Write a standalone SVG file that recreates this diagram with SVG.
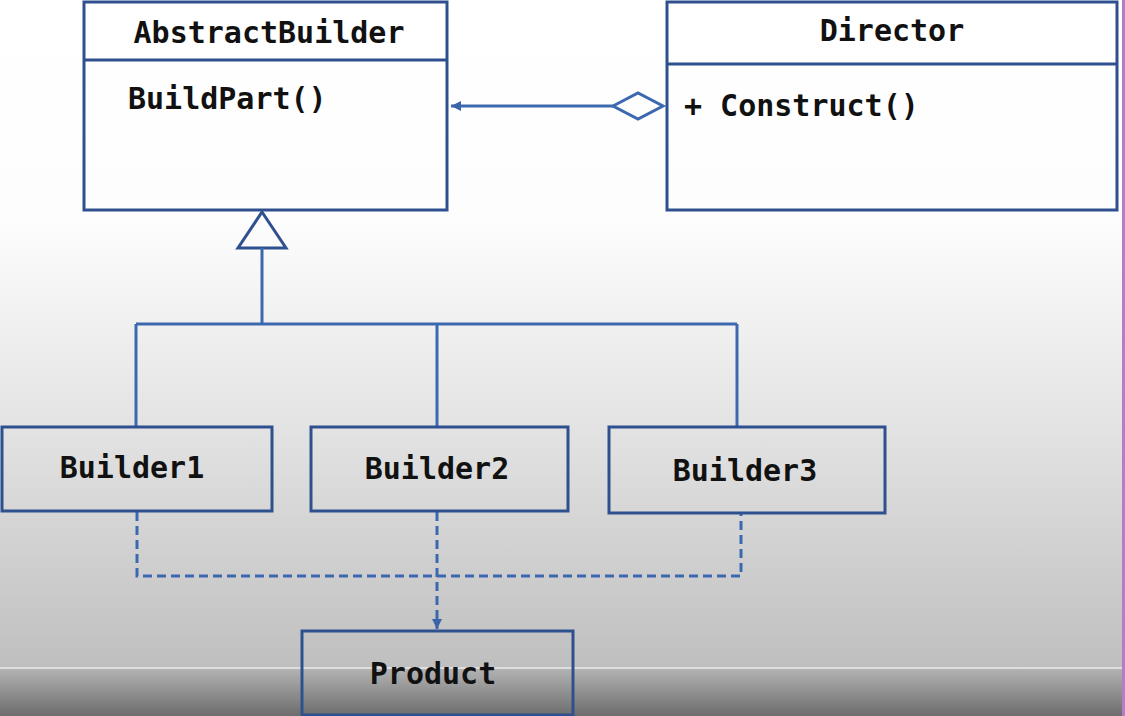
<svg xmlns="http://www.w3.org/2000/svg" width="1125" height="716" viewBox="0 0 1125 716">
<defs>
<linearGradient id="bg" x1="0" y1="0" x2="0" y2="668" gradientUnits="userSpaceOnUse">
<stop offset="0" stop-color="#ffffff"/>
<stop offset="0.33" stop-color="#fdfdfd"/>
<stop offset="0.5" stop-color="#efefef"/>
<stop offset="0.65" stop-color="#e2e2e2"/>
<stop offset="0.82" stop-color="#d1d1d1"/>
<stop offset="1" stop-color="#bfbfbf"/>
</linearGradient>
<linearGradient id="bar" x1="0" y1="669" x2="0" y2="716" gradientUnits="userSpaceOnUse">
<stop offset="0" stop-color="#b3b3b3"/>
<stop offset="1" stop-color="#6c6c6c"/>
</linearGradient>
<marker id="arrow" viewBox="0 0 10 10" refX="10" refY="5" markerWidth="10" markerHeight="10" markerUnits="userSpaceOnUse" orient="auto">
<path d="M0,0 L10,5 L0,10 Z" fill="#3a63a8"/>
</marker>
</defs>
<style>
.box{fill:none;stroke:#2f508f;stroke-width:3}
.conn{fill:none;stroke:#3c68b0;stroke-width:3}
.dash{fill:none;stroke:#3c68b0;stroke-width:3;stroke-dasharray:9 5}
.t{font-family:"DejaVu Sans Mono","Liberation Mono",monospace;font-weight:bold;font-size:30px;fill:#111}
</style>
<rect x="0" y="0" width="1125" height="668" fill="url(#bg)"/>
<rect x="0" y="667" width="1125" height="2" fill="#dedede"/>
<rect x="0" y="669" width="1125" height="47" fill="url(#bar)"/>
<rect x="1122" y="0" width="3" height="716" fill="#b57ccb"/>

<g id="connectors">
<path class="conn" d="M613,106 L451,106" marker-end="url(#arrow)"/>
<polygon class="conn" points="613,106 638,93 663,106 638,119" fill="none"/>
<polygon class="box" points="262,212 286,248 238,248" fill="none"/>
<path class="conn" d="M262,248 L262,324"/>
<path class="conn" d="M136,324 L737,324"/>
<path class="conn" d="M136,324 L136,427"/>
<path class="conn" d="M437,324 L437,427"/>
<path class="conn" d="M737,324 L737,427"/>
<path class="dash" d="M137,512 L137,576 L741,576 L741,514"/>
<path class="dash" d="M437,512 L437,629" marker-end="url(#arrow)"/>
</g>

<g id="AbstractBuilder">
<rect class="box" x="84" y="2" width="363" height="208"/>
<line class="box" x1="84" y1="60" x2="447" y2="60"/>
<text class="t" x="269" y="43" text-anchor="middle">AbstractBuilder</text>
<text class="t" x="128" y="109">BuildPart()</text>
</g>

<g id="Director">
<rect class="box" x="667" y="2" width="450" height="208"/>
<line class="box" x1="667" y1="64" x2="1117" y2="64"/>
<text class="t" x="892" y="41" text-anchor="middle">Director</text>
<text class="t" x="684" y="116">+ Construct()</text>
</g>

<g id="Builder1">
<rect class="box" x="2" y="427" width="270" height="84"/>
<text class="t" x="132" y="478" text-anchor="middle">Builder1</text>
</g>

<g id="Builder2">
<rect class="box" x="311" y="427" width="257" height="84"/>
<text class="t" x="437" y="479" text-anchor="middle">Builder2</text>
</g>

<g id="Builder3">
<rect class="box" x="609" y="427" width="276" height="86"/>
<text class="t" x="745" y="481" text-anchor="middle">Builder3</text>
</g>

<g id="Product">
<rect class="box" x="302" y="631" width="271" height="84"/>
<text class="t" x="433" y="684" text-anchor="middle">Product</text>
</g>
</svg>
